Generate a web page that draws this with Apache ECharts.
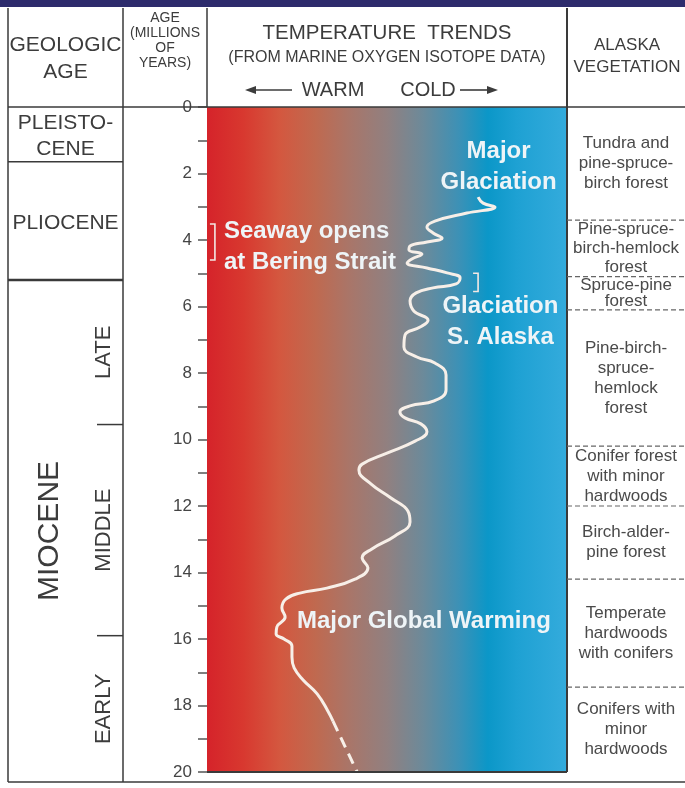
<!DOCTYPE html>
<html>
<head>
<meta charset="utf-8">
<title>Temperature trends and Alaska vegetation</title>
<script src="https://cdn.jsdelivr.net/npm/echarts@6/dist/echarts.min.js"></script>
<style>
  html, body { margin: 0; padding: 0; background: #ffffff; }
  #chart { width: 685px; height: 788px; }
</style>
</head>
<body>
<div id="chart"></div>
<script>
// Oxygen-isotope temperature curve: coldness index (0 = warm edge, 100 = cold edge) by age in Ma
const curveAge = [2.71, 2.89, 3.01, 3.19, 3.43, 3.61, 3.79, 3.94, 4.06, 4.18, 4.30, 4.42, 4.57, 4.69,
  4.84, 4.99, 5.14, 5.32, 5.44, 5.59, 5.83, 6.14, 6.41, 6.62, 6.86, 7.22, 7.52, 7.70, 8.06, 8.51,
  8.84, 8.99, 9.17, 9.35, 9.53, 9.77, 10.05, 10.41, 10.74, 10.92, 11.34, 11.76, 12.15, 12.48, 12.90,
  13.29, 13.56, 13.86, 14.20, 14.47, 14.62, 14.80, 15.07, 15.34, 15.64, 15.85, 16.00, 16.21, 16.54,
  16.87, 17.23, 17.65, 18.17, 18.47];
const curveIndex = [75.3, 76.7, 80.0, 72.2, 63.3, 61.1, 62.8, 65.3, 61.1, 56.4, 56.1, 59.7, 56.9, 55.6,
  61.1, 66.7, 70.3, 69.2, 62.8, 58.1, 56.4, 57.5, 61.4, 59.2, 55.0, 54.7, 58.3, 63.3, 66.4, 66.4,
  63.1, 56.4, 53.6, 55.0, 59.4, 61.1, 57.8, 50.0, 43.1, 42.2, 45.6, 51.1, 55.8, 56.4, 52.2,
  45.8, 43.1, 44.7, 41.1, 33.3, 25.8, 21.9, 20.8, 21.7, 19.4, 19.2, 21.4, 23.6, 23.6,
  24.2, 26.7, 30.6, 33.6, 35.0];
// Poorly constrained older segment, drawn dashed
const dashedAge = [18.47, 20.0];
const dashedIndex = [35.0, 41.7];

// Geologic time scale (Ma)
const epochNames = ['PLEISTO-\nCENE', 'PLIOCENE'];
const epochBounds = [0, 1.65, 5.2];
const mioceneName = 'MIOCENE';
const mioceneBounds = [5.2, 20];
const subEpochNames = ['LATE', 'MIDDLE', 'EARLY'];
const subEpochBounds = [5.2, 9.55, 15.9, 20];

// Alaska vegetation zones (Ma)
const vegNames = [
  'Tundra and\npine-spruce-\nbirch forest',
  'Pine-spruce-\nbirch-hemlock\nforest',
  'Spruce-pine\nforest',
  'Pine-birch-\nspruce-\nhemlock\nforest',
  'Conifer forest\nwith minor\nhardwoods',
  'Birch-alder-\npine forest',
  'Temperate\nhardwoods\nwith conifers',
  'Conifers with\nminor\nhardwoods'
];
const vegBounds = [0, 3.4, 5.1, 6.1, 10.2, 12.0, 14.2, 17.45, 20];

// Event labels, anchored at [coldness index, age]
const eventTexts = ['Major\nGlaciation', 'Seaway opens\nat Bering Strait', 'Glaciation\nS. Alaska', 'Major Global Warming'];
const eventAnchors = [[81.0, 1.8], [4.7, 4.21], [81.5, 6.47], [25.0, 15.46]];
const eventAlign = ['center', 'left', 'center', 'left'];
// Brackets marking event intervals: [coldness index, from age, to age]
const brackets = [[2.2, 3.52, 4.6], [75.3, 5.0, 5.55]];

const FONT = '"Liberation Sans", Arial, Helvetica, sans-serif';
const INK = '#3c3c3c';
const LINE = '#3a3a3a';

// Table frame
const T_LEFT = 8, T_TOP = 8, T_RIGHT = 685, T_BOTTOM = 782;
const COL1 = 123, COL2 = 207, COL3 = 567, HEAD_BOTTOM = 107;
const PLOT_BOTTOM = 772;

const chart = echarts.init(document.getElementById('chart'), null, { renderer: 'canvas' });

const warmCold = new echarts.graphic.LinearGradient(0, 0, 1, 0, [
  { offset: 0.00, color: '#d5232a' },
  { offset: 0.10, color: '#d8382f' },
  { offset: 0.20, color: '#d4573f' },
  { offset: 0.30, color: '#c0694f' },
  { offset: 0.40, color: '#a8766a' },
  { offset: 0.50, color: '#918080' },
  { offset: 0.60, color: '#6c8a9a' },
  { offset: 0.70, color: '#3c91b6' },
  { offset: 0.78, color: '#0b97c8' },
  { offset: 0.86, color: '#1ea1d3' },
  { offset: 1.00, color: '#34abdc' }
]);

chart.setOption({
  animation: false,
  backgroundColor: '#ffffff',
  grid: {
    left: COL2, top: HEAD_BOTTOM, width: COL3 - COL2, height: PLOT_BOTTOM - HEAD_BOTTOM,
    show: true, backgroundColor: warmCold, borderWidth: 0
  },
  xAxis: { type: 'value', min: 0, max: 100, show: false },
  yAxis: {
    type: 'value', inverse: true, min: 0, max: 20, interval: 2,
    axisLine: { show: false },
    axisTick: { show: true, length: 9, lineStyle: { color: '#555', width: 1.5 } },
    minorTick: { show: true, splitNumber: 2, length: 9, lineStyle: { color: '#555', width: 1.5 } },
    splitLine: { show: false },
    axisLabel: { margin: 15, fontSize: 17, color: '#444', fontFamily: FONT }
  },
  series: [
    {
      type: 'line', smooth: 0.45, symbol: 'none',
      lineStyle: { color: '#f7efe8', width: 3 },
      data: curveAge.map((a, i) => [curveIndex[i], a]),
      z: 5
    },
    {
      type: 'line', symbol: 'none',
      lineStyle: { color: '#f7efe8', width: 3, type: [11, 7] },
      data: dashedAge.map((a, i) => [dashedIndex[i], a]),
      z: 5
    }
  ]
});

const yOf = a => chart.convertToPixel({ yAxisIndex: 0 }, a);
const pt = (v, a) => chart.convertToPixel({ gridIndex: 0 }, [v, a]);

const els = [];
function line(x1, y1, x2, y2, w, color, dash) {
  els.push({ type: 'line', shape: { x1, y1, x2, y2 }, silent: true, z: 10,
    style: { stroke: color || LINE, lineWidth: w || 1.5, lineDash: dash || null } });
}
function text(str, x, y, opt) {
  opt = opt || {};
  els.push({ type: 'text', x, y, rotation: opt.rotation || 0, silent: true, z: 12,
    style: { text: str, fill: opt.fill || INK, fontSize: opt.size || 16, fontFamily: FONT,
      fontWeight: opt.weight || 'normal', align: opt.align || 'center', verticalAlign: 'middle',
      lineHeight: opt.lineHeight || Math.round((opt.size || 16) * 1.2) } });
}

// Top band
els.push({ type: 'rect', shape: { x: 0, y: 0, width: 685, height: 7 }, style: { fill: '#2d2b6c' }, silent: true, z: 10 });

// Outer frame and column rules
line(T_LEFT, T_TOP, T_LEFT, T_BOTTOM);
line(T_LEFT, T_BOTTOM, T_RIGHT, T_BOTTOM);
line(COL1, T_TOP, COL1, T_BOTTOM);
line(COL2, T_TOP, COL2, HEAD_BOTTOM);
line(COL3, T_TOP, COL3, PLOT_BOTTOM, 2);
line(T_LEFT, HEAD_BOTTOM, T_RIGHT, HEAD_BOTTOM);
line(COL2, PLOT_BOTTOM, COL3, PLOT_BOTTOM, 2);

// Header
text('GEOLOGIC\nAGE', (T_LEFT + COL1) / 2, 59, { size: 21, lineHeight: 27 });
text('AGE\n(MILLIONS\nOF\nYEARS)', (COL1 + COL2) / 2, 41, { size: 14, lineHeight: 15 });
text('TEMPERATURE  TRENDS', (COL2 + COL3) / 2, 33, { size: 20.5 });
text('(FROM MARINE OXYGEN ISOTOPE DATA)', (COL2 + COL3) / 2, 58, { size: 16 });
text('WARM', 333, 90, { size: 20 });
text('COLD', 428, 90, { size: 20 });
line(292, 90, 252, 90, 1.6, INK);
els.push({ type: 'polygon', shape: { points: [[245, 90], [256, 86], [256, 94]] }, style: { fill: INK }, silent: true, z: 10 });
line(460, 90, 490, 90, 1.6, INK);
els.push({ type: 'polygon', shape: { points: [[498, 90], [487, 86], [487, 94]] }, style: { fill: INK }, silent: true, z: 10 });
text('ALASKA\nVEGETATION', (COL3 + T_RIGHT) / 2 + 1, 56, { size: 17, lineHeight: 22 });

// Geologic epochs
epochNames.forEach((n, i) => {
  const y0 = yOf(epochBounds[i]), y1 = yOf(epochBounds[i + 1]);
  text(n, (T_LEFT + COL1) / 2, (y0 + y1) / 2 + 2, { size: 21, lineHeight: 26 });
  line(T_LEFT, y1, COL1, y1, i === epochNames.length - 1 ? 2.5 : 1.5);
});
{
  const y0 = yOf(mioceneBounds[0]), y1 = T_BOTTOM;
  text(mioceneName, 50, (y0 + y1) / 2, { size: 30, rotation: Math.PI / 2 });
}
subEpochNames.forEach((n, i) => {
  const y0 = yOf(subEpochBounds[i]);
  const y1 = i === subEpochNames.length - 1 ? T_BOTTOM : yOf(subEpochBounds[i + 1]);
  text(n, 104, (y0 + y1) / 2, { size: 22, rotation: Math.PI / 2 });
  if (i > 0) line(97, y0, COL1, y0, 1.5);
});

// Vegetation zones
vegNames.forEach((n, i) => {
  const y0 = yOf(vegBounds[i]), y1 = yOf(vegBounds[i + 1]);
  const lines = n.split('\n').length;
  const lh = Math.min(20, (y1 - y0) / lines);
  text(n, 626, (y0 + y1) / 2, { size: 17, lineHeight: lh, fill: '#4a4a4a' });
  if (i > 0) line(COL3, y0, T_RIGHT, y0, 1.2, '#666', [5, 3]);
});

// Event labels and brackets
eventTexts.forEach((t, i) => {
  const p = pt(eventAnchors[i][0], eventAnchors[i][1]);
  text(t, p[0], p[1], { size: 24, weight: 'bold', align: eventAlign[i], lineHeight: 31, fill: '#eef4f7' });
});
brackets.forEach(b => {
  const p0 = pt(b[0], b[1]), p1 = pt(b[0], b[2]);
  els.push({ type: 'polyline', silent: true, z: 12,
    shape: { points: [[p0[0] - 5, p0[1]], p0, p1, [p1[0] - 5, p1[1]]] },
    style: { stroke: '#f3e8e4', lineWidth: 1.6, fill: null } });
});

chart.setOption({ graphic: els });
</script>
</body>
</html>
